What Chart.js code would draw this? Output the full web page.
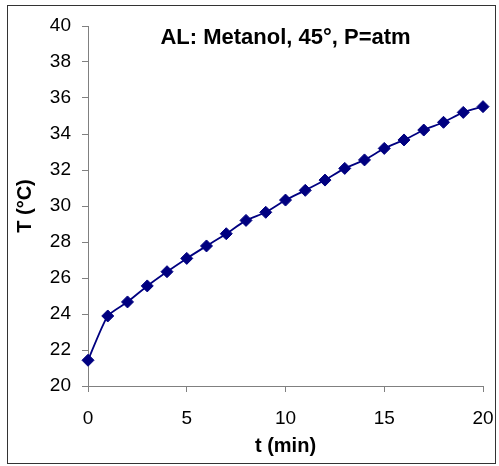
<!DOCTYPE html>
<html>
<head>
<meta charset="utf-8">
<script src="https://cdn.jsdelivr.net/npm/chart.js@4"></script>
<style>
  html, body { margin: 0; padding: 0; background: #fff; }
  #wrap { width: 499px; height: 466px; }
</style>
</head>
<body>
<div id="wrap"><canvas id="tempChart"></canvas></div>
<script>
// 時間 (min) と温度 (°C)
const tiempos = [0, 1, 2, 3, 4, 5, 6, 7, 8, 9, 10, 11, 12, 13, 14, 15, 16, 17, 18, 19, 20];
const temperaturas = [21.43, 23.89, 24.67, 25.56, 26.35, 27.09, 27.78, 28.46, 29.2, 29.65, 30.33,
                      30.87, 31.44, 32.09, 32.56, 33.2, 33.67, 34.22, 34.65, 35.2, 35.52];
const xTicks = [0, 5, 10, 15, 20];
const yTicks = [20, 22, 24, 26, 28, 30, 32, 34, 36, 38, 40];

const fontFamily = '"Liberation Sans", Arial, sans-serif';

// 外枠
const frame = {
    id: 'frame',
    afterDraw(chart) {
        const c = chart.ctx;
        c.save();
        c.strokeStyle = '#333333';
        c.lineWidth = 1;
        c.strokeRect(7.5, 5.5, 488, 458);
        c.restore();
    }
};

const ctx = document.getElementById('tempChart').getContext('2d');
const tempChart = new Chart(ctx, {
    type: 'line',
    data: {
        datasets: [{
            label: 'T',
            data: tiempos.map((t, i) => ({ x: t, y: temperaturas[i] })),
            borderColor: '#000080',
            backgroundColor: '#000080',
            borderWidth: 1.8,
            tension: 0.2,
            clip: false,
            pointStyle: 'rectRot',
            pointRadius: 6,
            pointBorderWidth: 1,
            pointBackgroundColor: '#000080',
            pointBorderColor: '#000080',
            fill: false
        }]
    },
    options: {
        responsive: true,
        maintainAspectRatio: false,
        animation: false,
        layout: { padding: { left: 10, right: 16, top: 0, bottom: 8 } },
        plugins: {
            legend: { display: false },
            tooltip: { enabled: false },
            title: {
                display: true,
                fullSize: false,
                text: 'AL: Metanol, 45°, P=atm',
                color: '#000',
                font: { family: fontFamily, size: 22, weight: 'bold' },
                padding: { top: 24.3, bottom: -24.7 }
            }
        },
        scales: {
            x: {
                type: 'linear',
                min: 0,
                max: 20,
                afterBuildTicks: s => { s.ticks = xTicks.map(v => ({ value: v })); },
                afterFit: s => { s.height = 72; s.paddingLeft = 0; s.paddingRight = 0; },
                grid: { display: true, drawOnChartArea: false, drawTicks: true, tickLength: 6, color: '#808080' },
                border: { display: true, color: '#808080', width: 1 },
                ticks: { color: '#000', padding: 15, maxRotation: 0, font: { family: fontFamily, size: 19 } },
                title: {
                    display: true,
                    text: 't (min)',
                    color: '#000',
                    font: { family: fontFamily, size: 20, weight: 'bold' },
                    padding: { top: 0, bottom: 0 }
                }
            },
            y: {
                min: 20,
                max: 40,
                afterBuildTicks: s => { s.ticks = yTicks.map(v => ({ value: v })); },
                afterFit: s => { s.width = 78; },
                grid: { display: true, drawOnChartArea: false, drawTicks: true, tickLength: 6, color: '#808080' },
                border: { display: true, color: '#808080', width: 1 },
                ticks: { color: '#000', padding: 11, font: { family: fontFamily, size: 19 } },
                title: {
                    display: true,
                    text: 'T (°C)',
                    color: '#000',
                    font: { family: fontFamily, size: 20, weight: 'bold' },
                    padding: { top: 3, bottom: 0 }
                }
            }
        }
    },
    plugins: [frame]
});
</script>
</body>
</html>
